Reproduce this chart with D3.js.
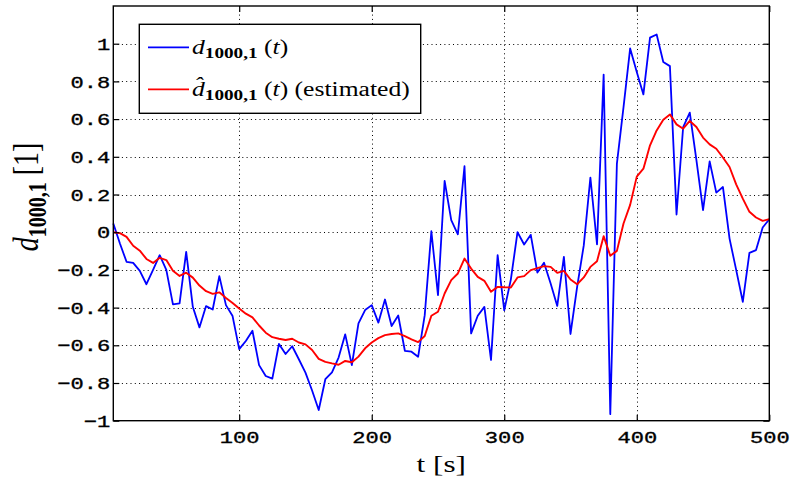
<!DOCTYPE html>
<html>
<head>
<meta charset="utf-8">
<script src="https://cdn.jsdelivr.net/npm/d3@7"></script>
<style>
  body { margin: 0; background: #fff; }
  svg { display: block; }
</style>
</head>
<body>
<svg id="chart" width="804" height="480"></svg>
<script>
// time stamps [s]
const times = [
  5, 10, 15, 20, 25, 30, 35, 40, 45, 50, 55, 60, 65, 70, 75, 80, 85, 90, 95, 100,
  105, 110, 115, 120, 125, 130, 135, 140, 145, 150, 155, 160, 165, 170, 175, 180, 185, 190, 195, 200,
  205, 210, 215, 220, 225, 230, 235, 240, 245, 250, 255, 260, 265, 270, 275, 280, 285, 290, 295, 300,
  305, 310, 315, 320, 325, 330, 335, 340, 345, 350, 355, 360, 365, 370, 375, 380, 385, 390, 395, 400,
  405, 410, 415, 420, 425, 430, 435, 440, 445, 450, 455, 460, 465, 470, 475, 480, 485, 490, 495, 500
];

// d_{1000,1}(t), measured
const measured = [
  0.046, -0.06, -0.157, -0.163, -0.205, -0.276, -0.20, -0.122, -0.20, -0.383,
  -0.378, -0.104, -0.396, -0.505, -0.392, -0.41, -0.233, -0.387, -0.445, -0.62,
  -0.577, -0.523, -0.705, -0.763, -0.777, -0.593, -0.646, -0.605, -0.674, -0.745,
  -0.84, -0.943, -0.78, -0.743, -0.665, -0.542, -0.705, -0.484, -0.413, -0.387,
  -0.48, -0.357, -0.498, -0.442, -0.629, -0.634, -0.661, -0.44, 0.005, -0.334,
  0.272, 0.064, -0.011, 0.35, -0.537, -0.443, -0.396, -0.678, -0.122, -0.415,
  -0.25, 0.0, -0.065, -0.014, -0.214, -0.162, -0.272, -0.391, -0.131, -0.54,
  -0.29, -0.07, 0.29, -0.065, 0.836, -0.965, 0.364, 0.664, 0.975, 0.85,
  0.731, 1.032, 1.049, 0.903, 0.881, 0.094, 0.558, 0.634, 0.382, 0.117,
  0.376, 0.21, 0.24, -0.034, -0.2, -0.369, -0.11, -0.095, 0.025, 0.069
];

// d^_{1000,1}(t), estimated
const estimated = [
  0.0, -0.005, -0.025, -0.072, -0.098, -0.142, -0.163, -0.136, -0.148, -0.205,
  -0.232, -0.215, -0.241, -0.283, -0.313, -0.327, -0.319, -0.349, -0.376, -0.405,
  -0.432, -0.452, -0.495, -0.533, -0.557, -0.565, -0.572, -0.565, -0.585, -0.595,
  -0.625, -0.672, -0.688, -0.696, -0.703, -0.683, -0.69, -0.66, -0.616, -0.585,
  -0.562, -0.546, -0.54, -0.537, -0.551, -0.569, -0.583, -0.551, -0.443, -0.422,
  -0.325, -0.254, -0.219, -0.14, -0.193, -0.237, -0.258, -0.316, -0.29, -0.292,
  -0.293, -0.24, -0.233, -0.201, -0.191, -0.18, -0.184, -0.216, -0.205, -0.251,
  -0.276, -0.24, -0.184, -0.154, -0.021, -0.125, -0.099, 0.046, 0.145, 0.295,
  0.337, 0.461, 0.54, 0.597, 0.625, 0.572, 0.549, 0.59, 0.558, 0.502,
  0.466, 0.443, 0.396, 0.346, 0.254, 0.178, 0.108, 0.078, 0.06, 0.069
];

const xTicks = [100, 200, 300, 400, 500];
const yTicks = [-1, -0.8, -0.6, -0.4, -0.2, 0, 0.2, 0.4, 0.6, 0.8, 1];

const svg = d3.select('#chart');
const plot = { left: 113.3, right: 769.3, top: 6, bottom: 420.7 };

const x = d3.scaleLinear().domain([5, 500]).range([plot.left, plot.right]);
const y = d3.scaleLinear().domain([-1, 1.2]).range([plot.bottom, plot.top]);

const fmt = v => (v === 0 ? '0' : (Math.abs(v) === 1 ? d3.format('d')(v) : d3.format('.1f')(v))).replace('-', '\u2212');

// dotted grid
const grid = svg.append('g').attr('class', 'grid')
  .attr('stroke', '#000').attr('stroke-width', 1).attr('stroke-dasharray', '1,3.3');
grid.selectAll('line.gx')
  .data(xTicks.filter(d => d < 500))
  .join('line').attr('class', 'gx')
  .attr('x1', d => Math.round(x(d)) + 0.5).attr('x2', d => Math.round(x(d)) + 0.5)
  .attr('y1', plot.top).attr('y2', plot.bottom);
grid.selectAll('line.gy')
  .data(yTicks.filter(d => d > -1))
  .join('line').attr('class', 'gy')
  .attr('x1', plot.left).attr('x2', plot.right)
  .attr('y1', d => Math.round(y(d)) + 0.5).attr('y2', d => Math.round(y(d)) + 0.5);

// series
const line = d3.line().x((d, i) => x(times[i])).y(d => y(d));

svg.append('path')
  .datum(measured)
  .attr('fill', 'none')
  .attr('stroke', '#0000ff')
  .attr('stroke-width', 1.8)
  .attr('stroke-linejoin', 'round')
  .attr('d', line);

svg.append('path')
  .datum(estimated)
  .attr('fill', 'none')
  .attr('stroke', '#ff0000')
  .attr('stroke-width', 1.9)
  .attr('stroke-linejoin', 'round')
  .attr('d', line);

// axes (inward ticks on all four sides)
const tickFont = g => g.selectAll('text')
  .attr('fill', '#000')
  .style('font-family', '"Liberation Mono", "DejaVu Sans Mono", monospace')
  .style('font-size', '17px')
  .style('stroke', '#000').style('stroke-width', 0.35);

const yAxis = svg.append('g')
  .attr('transform', `translate(${plot.left},0)`)
  .call(d3.axisLeft(y).tickValues(yTicks).tickFormat(fmt).tickSizeInner(-6).tickSizeOuter(0));
yAxis.select('.domain').remove();
yAxis.call(tickFont);
yAxis.selectAll('text')
  .attr('x', 0).attr('dy', '0.33em')
  .attr('transform', 'translate(-3,0) scale(1.3,1)');

const xAxis = svg.append('g')
  .attr('transform', `translate(0,${plot.bottom})`)
  .call(d3.axisBottom(x).tickValues(xTicks).tickFormat(d3.format('d')).tickSizeInner(-6).tickSizeOuter(0));
xAxis.select('.domain').remove();
xAxis.call(tickFont);
xAxis.selectAll('text')
  .attr('y', 0).attr('dy', 0)
  .attr('transform', 'translate(0,22.5) scale(1.3,1)');

svg.append('g')
  .attr('transform', `translate(${plot.right},0)`)
  .call(d3.axisRight(y).tickValues(yTicks).tickFormat('').tickSizeInner(-6).tickSizeOuter(0))
  .select('.domain').remove();

svg.append('g')
  .attr('transform', `translate(0,${plot.top})`)
  .call(d3.axisTop(x).tickValues(xTicks).tickFormat('').tickSizeInner(-6).tickSizeOuter(0))
  .select('.domain').remove();

svg.selectAll('.tick line').attr('stroke', '#000').attr('stroke-width', 1.2);

// plot box
svg.append('rect')
  .attr('x', plot.left).attr('y', plot.top)
  .attr('width', plot.right - plot.left).attr('height', plot.bottom - plot.top)
  .attr('fill', 'none').attr('stroke', '#000').attr('stroke-width', 1.4);

// axis labels
const serif = '"Liberation Serif", "DejaVu Serif", serif';

const xl = svg.append('text')
  .attr('transform', `translate(${(plot.left + plot.right) / 2},472) scale(1.3,1)`)
  .attr('text-anchor', 'middle')
  .style('font-family', serif).style('font-size', '24px');
xl.append('tspan').text('t [s]');

const yl = svg.append('text')
  .attr('transform', 'translate(38,197) rotate(-90) scale(1,1.25)')
  .attr('text-anchor', 'middle')
  .style('font-family', serif).style('font-size', '28px');
yl.append('tspan').style('font-style', 'italic').text('d');
yl.append('tspan').attr('dy', 6).style('font-size', '20px').style('font-weight', 'bold').text('1000,1');
yl.append('tspan').attr('dy', -6).text('\u00a0[1]');

// legend
const legend = svg.append('g');
legend.append('rect')
  .attr('x', 139.3).attr('y', 24.3).attr('width', 281.4).attr('height', 89)
  .attr('fill', '#fff').attr('stroke', '#000').attr('stroke-width', 1.4);

const legendItems = [
  { color: '#0000ff', ly: 47.3, hat: false, extra: '' },
  { color: '#ff0000', ly: 89.3, hat: true, extra: ' (estimated)' }
];

legendItems.forEach(it => {
  legend.append('line')
    .attr('x1', 148).attr('x2', 189).attr('y1', it.ly).attr('y2', it.ly)
    .attr('stroke', it.color).attr('stroke-width', 1.8);
  const t = legend.append('text')
    .attr('transform', `translate(192,${it.ly + 7}) scale(1.28,1)`)
    .style('font-family', serif).style('font-size', '20px');
  t.append('tspan').style('font-style', 'italic').text(it.hat ? 'd\u0302' : 'd');
  t.append('tspan').attr('dy', 4).style('font-size', '15px').style('font-weight', 'bold').text('1000,1');
  t.append('tspan').attr('dy', -4).text('\u00a0(');
  t.append('tspan').style('font-style', 'italic').text('t');
  t.append('tspan').text(')' + it.extra);
});
</script>
</body>
</html>
